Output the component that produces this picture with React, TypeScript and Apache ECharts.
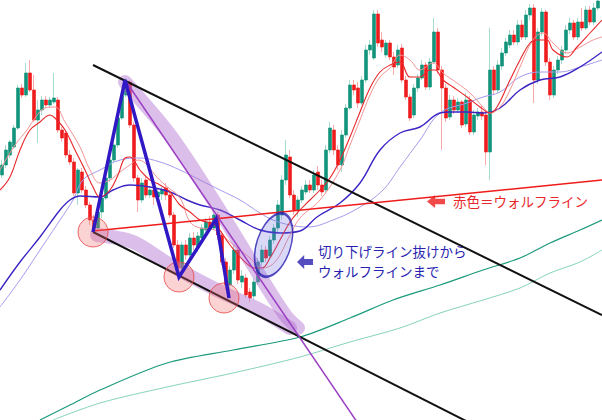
import React, { useEffect, useRef } from "react";
import * as echarts from "echarts";

// Candles: [open, close, low, high] (price in points)
const candles: number[][] = [
  [245,255,242,260],[255,270,252,275],[265,278,262,280],[273,292,271,295],[292,332,290,335],
  [332,325,322,336],[325,347,323,357],[347,330,328,360],[330,300,298,345],[300,310,277,320],
  [310,320,305,324],[320,315,312,324],[315,320,312,323],[318,322,316,347],[320,290,287,323],
  [290,282,278,293],[287,265,262,290],[265,258,255,270],[258,227,224,262],[227,250,215,252],
  [248,230,227,252],[230,215,212,234],[215,200,195,218],[200,192,188,205],[192,208,189,212],
  [208,222,202,225],[222,242,220,245],[242,260,238,263],[260,275,257,278],[275,302,272,305],
  [302,325,300,330],[325,338,323,342],[338,295,292,340],[295,242,238,298],[242,220,208,245],
  [220,237,217,242],[240,225,222,245],[225,230,222,234],[230,223,215,233],[223,228,218,232],
  [226,230,220,233],[232,225,220,237],[225,205,202,230],[205,175,172,208],[175,152,146,180],
  [152,175,148,178],[175,165,160,180],[165,182,162,187],[182,175,170,188],[172,184,168,188],
  [182,192,178,196],[190,198,186,202],[198,192,188,204],[192,205,190,209],[205,185,180,208],
  [185,158,155,188],[158,135,130,162],[135,150,120,154],[150,170,146,175],[170,140,136,174],
  [138,144,132,150],[142,125,122,146],[128,122,118,132],[124,138,120,142],[138,158,135,162],
  [158,170,155,175],[170,162,158,174],[164,180,160,184],[180,192,176,196],[192,215,188,220],
  [205,240,200,245],[240,265,235,280],[263,225,222,270],[225,210,205,230],[210,220,203,224],
  [220,230,217,234],[228,235,225,240],[235,230,227,240],[230,245,227,250],[248,235,230,254],
  [235,228,224,240],[230,270,227,275],[270,292,267,298],[290,270,265,295],[270,255,250,275],
  [255,285,248,290],[285,312,282,316],[312,335,310,340],[335,330,325,340],[332,317,312,338],
  [317,340,315,344],[340,370,337,375],[370,375,365,380],[362,406,360,410],[406,377,373,410],
  [380,373,368,388],[365,377,362,380],[377,363,360,380],[363,353,345,368],[355,370,352,375],
  [372,340,337,376],[340,323,320,344],[323,302,299,326],[305,332,302,336],[332,342,328,346],
  [342,355,340,360],[355,333,330,358],[333,358,330,362],[358,388,356,402],[388,350,346,392],
  [350,332,270,354],[332,302,298,336],[303,320,300,325],[320,310,306,324],[310,318,307,322],
  [318,295,292,320],[296,320,293,327],[320,288,285,324],[288,305,285,310],[304,308,300,312],
  [308,304,300,314],[305,268,255,310],[268,350,240,392],[350,330,325,354],[330,355,327,360],
  [354,367,350,372],[367,378,364,382],[375,385,372,390],[385,378,375,390],[378,395,375,400],
  [395,383,380,400],[383,405,380,410],[405,412,400,416],[412,340,317,416],[340,388,336,392],
  [388,408,384,412],[408,358,354,410],[358,325,320,362],[325,350,322,354],[350,360,346,364],
  [360,370,356,374],[370,390,366,395],[390,397,386,402],[397,383,380,400],[383,398,380,402],
  [398,392,389,412],[392,410,390,414],[410,398,395,414],[398,412,395,417],[412,419,410,421],
];

// Moving averages: [bar index, value]
const maRedDark: number[][] = [
  [-0.5,230],[2,243],[4.5,270],[7,290],[9.5,298],[12,305],[13.25,302],[15.75,290],[18.25,270],[20.75,250],
  [22.75,233],[24.5,223],[27,230],[29,245],[30.75,262],[32,263],[34.5,250],[37,240],[39.5,235],[42,228],
  [44.5,215],[47,208],[49.5,200],[53.25,195],[57,175],[60.75,158],[63.25,152],[65,152],[67,162],[69.5,180],
  [72,198],[74.5,210],[77,220],[79.5,230],[82,242],[84.5,260],[87,283],[89.5,308],[92,332],[94.5,348],
  [97,355],[99.5,358],[102,343],[104.5,343],[107,350],[108.25,350],[110.25,340],[112.75,333],[116.25,323],
  [119.5,313],[122,307],[123.75,313],[127,340],[129.5,360],[132,377],[133.75,380],[136.25,380],[137.75,370],
  [141.25,363],[143.75,373],[147,387],[150,400],
];
const maRedLight: number[][] = [
  [-0.5,250],[3.25,275],[6.25,290],[8.25,302],[10.75,312],[13.25,313],[15.75,298],[19.5,273],[22,250],
  [24.5,237],[27,240],[29.5,248],[32,255],[34,260],[35.75,257],[38.25,245],[40.75,235],[44.5,222],[47,198],
  [49.5,192],[53.25,190],[57,178],[62,162],[65,152],[68.25,158],[72,185],[74.5,202],[79.5,220],[84.5,250],
  [87,275],[89.5,300],[92,325],[94.5,343],[97,352],[99.5,365],[102,360],[104.5,350],[107.75,357],[110.25,347],
  [113.75,337],[117,327],[120.25,313],[122,307],[124.5,313],[127,330],[129.5,353],[132.75,380],[135.25,387],
  [137.75,377],[141.25,367],[144.5,373],[147.75,380],[150,383],
];
const maBlueDark: number[][] = [
  [-0.5,130],[4.5,158],[9.5,183],[14.5,210],[17,220],[19.5,224],[24.5,223],[27.75,230],[32,235],[37,233],
  [42,228],[46.25,220],[49.5,215],[54.5,210],[59.5,200],[64.5,190],[69.5,187],[74.5,189],[78.75,203],
  [84.5,217],[89.5,237],[94.5,270],[99.5,287],[104.5,293],[109.5,307],[112,308],[116.25,308],[120.25,307],
  [124.5,312],[129.5,330],[134.5,340],[139.5,343],[144.5,353],[150,368],
];
const maBlueLight: number[][] = [
  [-0.5,113],[4.5,140],[9.5,170],[14.5,200],[17.75,220],[20.25,240],[24.5,250],[29.5,260],[34.5,262],
  [39.5,258],[44.5,250],[49.5,240],[54.5,230],[59.5,220],[64.5,207],[67.75,200],[72,195],[76.25,193],
  [82.75,200],[89.5,213],[95.25,230],[99.5,253],[104.5,280],[109.5,307],[116.25,317],[120.25,323],
  [124.5,328],[129.5,343],[134.5,348],[139.5,348],[144.5,353],[150,360],
];
const maGreenDark: number[][] = [
  [9.5,0],[17,15],[24.5,30],[41.25,57],[57.75,70],[74.5,83],[87,102],[97.75,120],[109.5,135],
  [120.25,150],[129.5,162],[137,177],[144.5,190],[150,200],
];
const maGreenLight: number[][] = [
  [12.75,0],[24.5,17],[41.25,33],[57.75,47],[74.5,63],[87,78],[99.5,92],[109.5,107],[120.25,120],
  [129.5,132],[137,147],[144.5,158],[150,170],
];

// Drawn annotations: [bar index, price]
const channelUpper: number[][] = [[22.75,355],[150,105]];
const channelLower: number[][] = [[22.75,188],[117,-3]];
const wolfeLine: number[][] = [[22.75,189],[150,240]];
const purpleLine: number[][] = [[30.75,340],[88.75,-2]];
const zigzag: number[][] = [[22.75,188],[30.75,340],[44.25,143],[53.5,201],[56.75,122]];
const bandUpper: number[][] = [[30.75,338],[42,285],[52,225],[62,160],[70.75,105],[74,92]];
const bandLower: number[][] = [[23.75,185],[32.75,178],[41.25,157],[52.75,132],[64.5,110],[72,92]];
const pivotCircles: number[][] = [[22.75,188],[44.25,143],[55.5,122]];
const breakoutEllipse: number[][] = [[67.9,175]];
const blueArrow: number[][] = [[75.75,158]];
const redArrow: number[][] = [[108.5,218.5]];

const noteBlue = ["切り下げライン抜けから", "ウォルフラインまで"];
const noteRed = "赤色＝ウォルフライン";

const ARROW = "path://M0,50 L45,0 L45,28 L100,28 L100,72 L45,72 L45,100 Z";
const FONT = "'Noto Sans CJK JP', sans-serif";

export default function App() {
  const ref = useRef<HTMLDivElement>(null);
  useEffect(() => {
    if (!ref.current) return;
    const chart = echarts.init(ref.current, undefined, { renderer: "svg" });
    const wickData = candles.map((c, i) => [i, c[0], c[1], c[2], c[3]]);
    const bodyData = candles.map((c, i) => [i, c[0], c[1], Math.min(c[0], c[1]), Math.max(c[0], c[1])]);
    const line = (data: number[][], color: string, width: number, smooth: number | boolean = false, z = 3) => ({
      type: "line",
      data,
      symbol: "none",
      smooth,
      silent: true,
      z,
      lineStyle: { color, width },
    });
    const band = { color: "rgba(176,110,206,0.45)", width: 14, cap: "round", join: "round" };
    chart.setOption({
      animation: false,
      backgroundColor: "#ffffff",
      grid: { left: 0, right: 0, top: 0, bottom: 0 },
      xAxis: { type: "value", min: -0.5, max: 150, show: false },
      yAxis: { type: "value", min: 0, max: 420, show: false },
      series: [
        {
          type: "candlestick",
          data: wickData,
          barWidth: 2,
          z: 2,
          itemStyle: { color: "#a6dccf", color0: "#f6aaaa", borderColor: "#a6dccf", borderColor0: "#f6aaaa", borderWidth: 1 },
        },
        {
          type: "candlestick",
          data: bodyData,
          barWidth: 3,
          z: 2,
          itemStyle: { color: "#12937b", color0: "#ee1c1c", borderColor: "#12937b", borderColor0: "#ee1c1c", borderWidth: 0.6 },
        },
        line(maGreenLight, "#86d3bd", 1, 0.3),
        line(maGreenDark, "#1b9a7c", 1.2, 0.3),
        line(maBlueLight, "#a29bec", 1, 0.4),
        line(maBlueDark, "#3b26c4", 1.4, 0.4),
        line(maRedLight, "#f39393", 1, 0.4),
        line(maRedDark, "#e8262a", 1.1, 0.4),
        { ...line(bandUpper, band.color, 14, 0.3, 4), lineStyle: band },
        { ...line(bandLower, band.color, 14, 0.3, 4), lineStyle: band },
        line(channelUpper, "#111111", 2, false, 5),
        line(channelLower, "#111111", 2, false, 5),
        line(wolfeLine, "#f01a1a", 1.5, false, 5),
        line(purpleLine, "#9b3fc4", 1.5, false, 5),
        {
          type: "scatter",
          data: pivotCircles,
          symbol: "circle",
          symbolSize: 30,
          z: 6,
          silent: true,
          itemStyle: { color: "rgba(242,110,110,0.38)", borderColor: "#e84545", borderWidth: 1 },
        },
        {
          ...line(zigzag, "#3018c4", 3.5, false, 7),
          lineStyle: { color: "#3018c4", width: 3.5, join: "miter" },
        },
        {
          type: "scatter",
          data: breakoutEllipse,
          symbol: "circle",
          symbolSize: [34, 66],
          symbolRotate: -18,
          z: 6,
          silent: true,
          itemStyle: { color: "rgba(110,110,225,0.33)", borderColor: "#2a1fb0", borderWidth: 2 },
        },
        {
          type: "scatter",
          data: blueArrow,
          symbol: ARROW,
          symbolSize: [16, 14],
          z: 8,
          silent: true,
          itemStyle: { color: "#2a1fb0" },
        },
        {
          type: "scatter",
          data: redArrow,
          symbol: ARROW,
          symbolSize: [18, 13],
          z: 8,
          silent: true,
          itemStyle: { color: "#ee1c1c" },
        },
      ],
      graphic: [
        { type: "text", x: 318, y: 244, z: 100, style: { text: noteBlue[0], fill: "#2a1fb0", fontSize: 13.5, fontFamily: FONT, verticalAlign: "top" } },
        { type: "text", x: 318, y: 264, z: 100, style: { text: noteBlue[1], fill: "#2a1fb0", fontSize: 13.5, fontFamily: FONT, verticalAlign: "top" } },
        { type: "text", x: 453, y: 194, z: 100, style: { text: noteRed, fill: "#e8262a", fontSize: 13.5, fontFamily: FONT, verticalAlign: "top" } },
      ],
    });
    return () => chart.dispose();
  }, []);
  return <div ref={ref} style={{ position: "absolute", left: 0, top: 0, width: 602, height: 420, background: "#fff" }} />;
}
